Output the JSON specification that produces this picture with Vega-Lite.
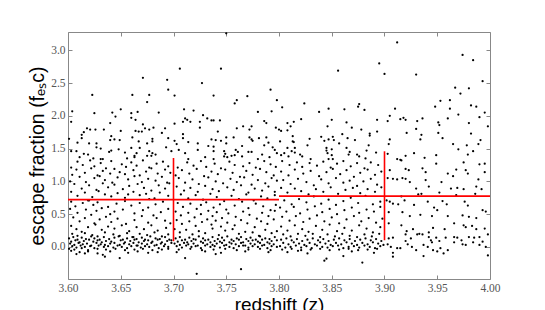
{
"$schema":"https://vega.github.io/schema/vega-lite/v6.json",
"width":422,"height":247,
"autosize":"none",
"padding":{"left":68,"top":32,"right":55,"bottom":31},
"background":"white",
"config":{"view":{"stroke":"#888","strokeWidth":1}},
"datasets":{
"bins":[{"lo":3.6,"hi":3.8,"mid":3.7,"mean":0.722,"elo":0.087,"ehi":1.357},{"lo":3.8,"hi":4.0,"mid":3.9,"mean":0.775,"elo":0.102,"ehi":1.459}],
"pts":[
{"z":3.671,"f":2.58},{"z":3.694,"f":2.55},{"z":3.695,"f":2.40},{"z":3.623,"f":2.32},{"z":3.661,"f":2.32},{"z":3.677,"f":2.32},{"z":3.675,"f":2.21},{"z":3.604,"f":2.07},{"z":3.625,"f":2.04},{"z":3.642,"f":2.05},{"z":3.650,"f":2.10},{"z":3.660,"f":2.04},{"z":3.666,"f":2.06},{"z":3.686,"f":2.05},{"z":3.603,"f":1.91},{"z":3.645,"f":1.99},{"z":3.660,"f":1.97},{"z":3.664,"f":1.94},{"z":3.640,"f":1.89},{"z":3.671,"f":1.87},{"z":3.673,"f":1.81},{"z":3.677,"f":1.79},{"z":3.681,"f":1.82},{"z":3.618,"f":1.81},{"z":3.621,"f":1.79},{"z":3.626,"f":1.79},{"z":3.634,"f":1.79},{"z":3.615,"f":1.75},{"z":3.613,"f":1.71},{"z":3.650,"f":1.77},{"z":3.664,"f":1.77},{"z":3.667,"f":1.76},{"z":3.670,"f":1.76},{"z":3.689,"f":1.74},{"z":3.692,"f":1.81},{"z":3.695,"f":1.66},{"z":3.613,"f":1.66},{"z":3.641,"f":1.69},{"z":3.644,"f":1.64},{"z":3.640,"f":1.63},{"z":3.649,"f":1.63},{"z":3.661,"f":1.67},{"z":3.667,"f":1.61},{"z":3.680,"f":1.65},{"z":3.680,"f":1.61},{"z":3.609,"f":1.59},{"z":3.620,"f":1.58},{"z":3.627,"f":1.58},{"z":3.675,"f":1.58},{"z":3.601,"f":1.65},{"z":3.627,"f":1.52},{"z":3.631,"f":1.50},{"z":3.648,"f":1.49},{"z":3.660,"f":1.51},{"z":3.668,"f":1.51},{"z":3.693,"f":1.52},{"z":3.603,"f":1.46},{"z":3.608,"f":1.46},{"z":3.615,"f":1.42},{"z":3.619,"f":1.41},{"z":3.639,"f":1.45},{"z":3.641,"f":1.47},{"z":3.654,"f":1.44},{"z":3.663,"f":1.39},{"z":3.665,"f":1.43},{"z":3.677,"f":1.46},{"z":3.680,"f":1.43},{"z":3.683,"f":1.41},{"z":3.698,"f":1.46},{"z":3.611,"f":1.37},{"z":3.624,"f":1.35},{"z":3.631,"f":1.34},{"z":3.633,"f":1.34},{"z":3.656,"f":1.35},{"z":3.663,"f":1.37},{"z":3.675,"f":1.39},{"z":3.679,"f":1.39},
{"z":3.750,"f":3.26},{"z":3.706,"f":2.72},{"z":3.745,"f":2.72},{"z":3.727,"f":2.50},{"z":3.701,"f":2.31},{"z":3.738,"f":2.31},{"z":3.770,"f":2.30},{"z":3.792,"f":2.40},{"z":3.760,"f":2.24},{"z":3.758,"f":2.19},{"z":3.798,"f":2.24},{"z":3.710,"f":2.10},{"z":3.719,"f":2.08},{"z":3.780,"f":2.06},{"z":3.793,"f":2.07},{"z":3.728,"f":2.01},{"z":3.701,"f":1.88},{"z":3.709,"f":1.91},{"z":3.711,"f":1.96},{"z":3.713,"f":1.94},{"z":3.716,"f":1.91},{"z":3.725,"f":1.91},{"z":3.732,"f":1.96},{"z":3.736,"f":1.93},{"z":3.738,"f":1.93},{"z":3.744,"f":1.93},{"z":3.725,"f":1.82},{"z":3.760,"f":1.81},{"z":3.766,"f":1.84},{"z":3.772,"f":1.79},{"z":3.774,"f":1.84},{"z":3.786,"f":1.92},{"z":3.788,"f":1.89},{"z":3.797,"f":1.82},{"z":3.800,"f":1.79},{"z":3.742,"f":1.76},{"z":3.709,"f":1.72},{"z":3.709,"f":1.66},{"z":3.750,"f":1.67},{"z":3.757,"f":1.67},{"z":3.772,"f":1.67},{"z":3.781,"f":1.66},{"z":3.788,"f":1.67},{"z":3.701,"f":1.62},{"z":3.714,"f":1.60},{"z":3.723,"f":1.58},{"z":3.736,"f":1.64},{"z":3.740,"f":1.63},{"z":3.745,"f":1.62},{"z":3.750,"f":1.58},{"z":3.774,"f":1.64},{"z":3.775,"f":1.62},{"z":3.790,"f":1.59},{"z":3.703,"f":1.57},{"z":3.723,"f":1.48},{"z":3.733,"f":1.54},{"z":3.738,"f":1.53},{"z":3.765,"f":1.54},{"z":3.771,"f":1.45},{"z":3.774,"f":1.45},{"z":3.786,"f":1.55},{"z":3.794,"f":1.52},{"z":3.796,"f":1.48},{"z":3.705,"f":1.48},{"z":3.711,"f":1.43},{"z":3.738,"f":1.46},{"z":3.748,"f":1.46},{"z":3.749,"f":1.42},{"z":3.759,"f":1.48},{"z":3.761,"f":1.45},{"z":3.758,"f":1.40},{"z":3.765,"f":1.38},{"z":3.784,"f":1.41},{"z":3.798,"f":1.43},{"z":3.714,"f":1.34},{"z":3.730,"f":1.37},{"z":3.738,"f":1.34},{"z":3.748,"f":1.38},{"z":3.751,"f":1.37},{"z":3.755,"f":1.39},{"z":3.780,"f":1.34},{"z":3.791,"f":1.37},
{"z":3.895,"f":2.80},{"z":3.900,"f":2.64},{"z":3.856,"f":2.69},{"z":3.803,"f":2.13},{"z":3.824,"f":2.19},{"z":3.838,"f":2.06},{"z":3.847,"f":2.11},{"z":3.862,"f":2.10},{"z":3.875,"f":2.14},{"z":3.876,"f":2.18},{"z":3.881,"f":2.09},{"z":3.808,"f":1.89},{"z":3.814,"f":1.91},{"z":3.821,"f":1.95},{"z":3.811,"f":1.84},{"z":3.808,"f":1.78},{"z":3.802,"f":1.77},{"z":3.850,"f":1.94},{"z":3.864,"f":1.90},{"z":3.846,"f":1.84},{"z":3.869,"f":1.82},{"z":3.878,"f":1.79},{"z":3.893,"f":1.94},{"z":3.893,"f":1.76},{"z":3.886,"f":1.73},{"z":3.886,"f":1.70},{"z":3.860,"f":1.72},{"z":3.813,"f":1.69},{"z":3.840,"f":1.68},{"z":3.851,"f":1.68},{"z":3.852,"f":1.63},{"z":3.847,"f":1.64},{"z":3.843,"f":1.62},{"z":3.829,"f":1.65},{"z":3.865,"f":1.66},{"z":3.872,"f":1.63},{"z":3.801,"f":1.61},{"z":3.813,"f":1.61},{"z":3.814,"f":1.60},{"z":3.827,"f":1.55},{"z":3.857,"f":1.58},{"z":3.885,"f":1.55},{"z":3.808,"f":1.51},{"z":3.815,"f":1.51},{"z":3.845,"f":1.51},{"z":3.864,"f":1.51},{"z":3.850,"f":1.49},{"z":3.805,"f":1.43},{"z":3.812,"f":1.46},{"z":3.815,"f":1.44},{"z":3.820,"f":1.41},{"z":3.845,"f":1.47},{"z":3.846,"f":1.43},{"z":3.867,"f":1.45},{"z":3.866,"f":1.41},{"z":3.883,"f":1.47},{"z":3.892,"f":1.44},{"z":3.802,"f":1.40},{"z":3.809,"f":1.38},{"z":3.822,"f":1.38},{"z":3.847,"f":1.34},{"z":3.850,"f":1.40},{"z":3.851,"f":1.34},{"z":3.874,"f":1.41},{"z":3.876,"f":1.38},{"z":3.830,"f":1.34},{"z":3.882,"f":1.35},
{"z":3.912,"f":3.12},{"z":3.974,"f":2.93},{"z":3.984,"f":2.85},{"z":3.930,"f":2.63},{"z":3.993,"f":2.53},{"z":3.967,"f":2.43},{"z":3.972,"f":2.34},{"z":3.980,"f":2.42},{"z":3.953,"f":2.23},{"z":3.962,"f":2.24},{"z":3.948,"f":2.14},{"z":3.962,"f":2.11},{"z":3.982,"f":2.16},{"z":3.987,"f":2.14},{"z":3.910,"f":2.11},{"z":3.995,"f":2.05},{"z":3.905,"f":2.00},{"z":3.970,"f":2.02},{"z":3.990,"f":1.98},{"z":3.915,"f":1.95},{"z":3.918,"f":1.97},{"z":3.920,"f":1.94},{"z":3.936,"f":1.96},{"z":3.960,"f":1.96},{"z":3.903,"f":1.92},{"z":3.931,"f":1.92},{"z":3.951,"f":1.90},{"z":3.952,"f":1.86},{"z":3.980,"f":1.89},{"z":3.998,"f":1.84},{"z":3.930,"f":1.80},{"z":3.921,"f":1.74},{"z":3.951,"f":1.74},{"z":3.982,"f":1.73},{"z":3.935,"f":1.71},{"z":3.955,"f":1.66},{"z":3.905,"f":1.64},{"z":3.934,"f":1.64},{"z":3.991,"f":1.63},{"z":3.904,"f":1.57},{"z":3.965,"f":1.57},{"z":3.978,"f":1.55},{"z":3.989,"f":1.57},{"z":3.970,"f":1.49},{"z":3.984,"f":1.46},{"z":3.903,"f":1.42},{"z":3.928,"f":1.43},{"z":3.949,"f":1.40},{"z":3.979,"f":1.41},{"z":3.912,"f":1.34},{"z":3.915,"f":1.33},{"z":3.920,"f":1.39},{"z":3.938,"f":1.36},
{"z":3.603,"f":1.21},{"z":3.609,"f":1.30},{"z":3.614,"f":1.25},{"z":3.621,"f":1.32},{"z":3.625,"f":1.23},{"z":3.631,"f":1.28},{"z":3.636,"f":1.20},{"z":3.641,"f":1.31},{"z":3.651,"f":1.26},{"z":3.655,"f":1.22},{"z":3.660,"f":1.29},{"z":3.665,"f":1.24},{"z":3.671,"f":1.32},{"z":3.677,"f":1.21},{"z":3.684,"f":1.27},{"z":3.690,"f":1.30},{"z":3.695,"f":1.23},
{"z":3.604,"f":1.10},{"z":3.608,"f":1.18},{"z":3.616,"f":1.13},{"z":3.622,"f":1.20},{"z":3.628,"f":1.09},{"z":3.633,"f":1.16},{"z":3.640,"f":1.12},{"z":3.644,"f":1.19},{"z":3.649,"f":1.14},{"z":3.654,"f":1.11},{"z":3.662,"f":1.17},{"z":3.668,"f":1.09},{"z":3.674,"f":1.15},{"z":3.679,"f":1.20},{"z":3.685,"f":1.12},{"z":3.692,"f":1.18},{"z":3.697,"f":1.13},
{"z":3.602,"f":1.00},{"z":3.611,"f":1.07},{"z":3.617,"f":0.99},{"z":3.625,"f":1.05},{"z":3.630,"f":1.08},{"z":3.635,"f":1.02},{"z":3.642,"f":0.98},{"z":3.647,"f":1.06},{"z":3.657,"f":1.03},{"z":3.663,"f":1.08},{"z":3.670,"f":0.99},{"z":3.676,"f":1.04},{"z":3.683,"f":1.01},{"z":3.689,"f":1.07},{"z":3.694,"f":0.98},
{"z":3.606,"f":0.96},{"z":3.613,"f":0.89},{"z":3.620,"f":0.94},{"z":3.627,"f":0.87},{"z":3.633,"f":0.97},{"z":3.638,"f":0.91},{"z":3.644,"f":0.95},{"z":3.652,"f":0.88},{"z":3.658,"f":0.93},{"z":3.666,"f":0.96},{"z":3.672,"f":0.90},{"z":3.679,"f":0.86},{"z":3.686,"f":0.94},{"z":3.692,"f":0.89},{"z":3.696,"f":0.97},
{"z":3.603,"f":0.84},{"z":3.609,"f":0.78},{"z":3.616,"f":0.83},{"z":3.623,"f":0.76},{"z":3.629,"f":0.85},{"z":3.635,"f":0.80},{"z":3.641,"f":0.77},{"z":3.647,"f":0.82},{"z":3.654,"f":0.75},{"z":3.662,"f":0.84},{"z":3.668,"f":0.79},{"z":3.674,"f":0.81},{"z":3.682,"f":0.74},{"z":3.687,"f":0.83},{"z":3.695,"f":0.78},{"z":3.619,"f":0.71},{"z":3.657,"f":0.80},{"z":3.677,"f":0.73},
{"z":3.603,"f":0.69},{"z":3.607,"f":0.62},{"z":3.614,"f":0.67},{"z":3.620,"f":0.71},{"z":3.624,"f":0.64},{"z":3.628,"f":0.68},{"z":3.638,"f":0.61},{"z":3.646,"f":0.66},{"z":3.654,"f":0.70},{"z":3.660,"f":0.63},{"z":3.668,"f":0.67},{"z":3.676,"f":0.60},{"z":3.683,"f":0.65},{"z":3.690,"f":0.69},
{"z":3.602,"f":0.58},{"z":3.609,"f":0.52},{"z":3.617,"f":0.57},{"z":3.622,"f":0.49},{"z":3.627,"f":0.55},{"z":3.632,"f":0.59},{"z":3.640,"f":0.50},{"z":3.644,"f":0.54},{"z":3.652,"f":0.57},{"z":3.663,"f":0.51},{"z":3.671,"f":0.56},{"z":3.681,"f":0.48},{"z":3.688,"f":0.53},{"z":3.695,"f":0.58},
{"z":3.605,"f":0.45},{"z":3.611,"f":0.39},{"z":3.616,"f":0.44},{"z":3.625,"f":0.36},{"z":3.630,"f":0.42},{"z":3.636,"f":0.46},{"z":3.641,"f":0.38},{"z":3.647,"f":0.43},{"z":3.655,"f":0.35},{"z":3.663,"f":0.41},{"z":3.670,"f":0.47},{"z":3.676,"f":0.37},{"z":3.684,"f":0.44},{"z":3.692,"f":0.40},{"z":3.697,"f":0.36},
{"z":3.603,"f":0.32},{"z":3.608,"f":0.27},{"z":3.613,"f":0.23},{"z":3.619,"f":0.30},{"z":3.626,"f":0.34},{"z":3.632,"f":0.26},{"z":3.638,"f":0.31},{"z":3.644,"f":0.28},{"z":3.651,"f":0.33},{"z":3.658,"f":0.24},{"z":3.665,"f":0.30},{"z":3.672,"f":0.27},{"z":3.679,"f":0.33},{"z":3.685,"f":0.25},{"z":3.693,"f":0.29},
{"z":3.604,"f":0.20},{"z":3.609,"f":0.17},{"z":3.616,"f":0.21},{"z":3.623,"f":0.18},{"z":3.628,"f":0.16},{"z":3.635,"f":0.22},{"z":3.643,"f":0.19},{"z":3.649,"f":0.17},{"z":3.656,"f":0.21},{"z":3.662,"f":0.15},{"z":3.668,"f":0.20},{"z":3.675,"f":0.18},{"z":3.682,"f":0.22},{"z":3.689,"f":0.16},{"z":3.695,"f":0.19},
{"z":3.601,"f":0.13},{"z":3.605,"f":0.15},{"z":3.609,"f":0.11},{"z":3.613,"f":0.14},{"z":3.617,"f":0.12},{"z":3.622,"f":0.16},{"z":3.625,"f":0.13},{"z":3.630,"f":0.11},{"z":3.634,"f":0.15},{"z":3.639,"f":0.12},{"z":3.644,"f":0.14},{"z":3.648,"f":0.16},{"z":3.652,"f":0.11},{"z":3.656,"f":0.13},{"z":3.661,"f":0.15},{"z":3.665,"f":0.12},{"z":3.670,"f":0.14},{"z":3.673,"f":0.11},{"z":3.678,"f":0.16},{"z":3.683,"f":0.13},{"z":3.687,"f":0.12},{"z":3.692,"f":0.15},{"z":3.696,"f":0.11},
{"z":3.603,"f":0.08},{"z":3.607,"f":0.10},{"z":3.611,"f":0.07},{"z":3.615,"f":0.09},{"z":3.620,"f":0.11},{"z":3.624,"f":0.08},{"z":3.628,"f":0.10},{"z":3.632,"f":0.07},{"z":3.636,"f":0.09},{"z":3.641,"f":0.08},{"z":3.650,"f":0.10},{"z":3.654,"f":0.07},{"z":3.659,"f":0.09},{"z":3.663,"f":0.11},{"z":3.667,"f":0.07},{"z":3.672,"f":0.09},{"z":3.676,"f":0.10},{"z":3.680,"f":0.08},{"z":3.685,"f":0.11},{"z":3.689,"f":0.07},{"z":3.694,"f":0.09},{"z":3.698,"f":0.10},
{"z":3.602,"f":0.05},{"z":3.606,"f":0.03},{"z":3.610,"f":0.06},{"z":3.614,"f":0.04},{"z":3.618,"f":0.05},{"z":3.622,"f":0.02},{"z":3.627,"f":0.06},{"z":3.631,"f":0.04},{"z":3.635,"f":0.03},{"z":3.640,"f":0.05},{"z":3.644,"f":0.06},{"z":3.649,"f":0.03},{"z":3.653,"f":0.05},{"z":3.658,"f":0.04},{"z":3.662,"f":0.06},{"z":3.666,"f":0.02},{"z":3.670,"f":0.05},{"z":3.675,"f":0.04},{"z":3.679,"f":0.06},{"z":3.684,"f":0.03},{"z":3.688,"f":0.05},{"z":3.692,"f":0.04},{"z":3.698,"f":0.06},
{"z":3.604,"f":0.01},{"z":3.608,"f":-0.01},{"z":3.612,"f":0.02},{"z":3.616,"f":0.00},{"z":3.621,"f":0.01},{"z":3.625,"f":-0.02},{"z":3.629,"f":0.02},{"z":3.634,"f":0.00},{"z":3.638,"f":0.01},{"z":3.643,"f":-0.01},{"z":3.647,"f":0.02},{"z":3.651,"f":0.00},{"z":3.656,"f":-0.02},{"z":3.660,"f":0.01},{"z":3.665,"f":0.02},{"z":3.669,"f":-0.01},{"z":3.673,"f":0.01},{"z":3.677,"f":0.00},{"z":3.682,"f":0.02},{"z":3.686,"f":-0.02},{"z":3.691,"f":0.01},{"z":3.695,"f":0.00},
{"z":3.601,"f":-0.03},{"z":3.606,"f":-0.04},{"z":3.613,"f":-0.02},{"z":3.619,"f":-0.05},{"z":3.628,"f":-0.03},{"z":3.636,"f":-0.04},{"z":3.645,"f":-0.03},{"z":3.654,"f":-0.05},{"z":3.663,"f":-0.04},{"z":3.671,"f":-0.03},{"z":3.680,"f":-0.05},{"z":3.689,"f":-0.04},{"z":3.695,"f":-0.03},
{"z":3.603,"f":-0.06},{"z":3.611,"f":-0.08},{"z":3.619,"f":-0.07},{"z":3.628,"f":-0.10},{"z":3.633,"f":-0.12},{"z":3.640,"f":-0.07},{"z":3.649,"f":-0.17},{"z":3.657,"f":-0.09},{"z":3.666,"f":-0.07},{"z":3.676,"f":-0.09},{"z":3.685,"f":-0.08},{"z":3.608,"f":-0.11},{"z":3.635,"f":-0.15},{"z":3.616,"f":-0.10},
{"z":3.704,"f":1.21},{"z":3.713,"f":1.29},{"z":3.719,"f":1.24},{"z":3.726,"f":1.31},{"z":3.731,"f":1.22},{"z":3.739,"f":1.27},{"z":3.745,"f":1.20},{"z":3.753,"f":1.30},{"z":3.758,"f":1.25},{"z":3.766,"f":1.23},{"z":3.772,"f":1.28},{"z":3.778,"f":1.21},{"z":3.786,"f":1.31},{"z":3.792,"f":1.26},{"z":3.797,"f":1.22},
{"z":3.702,"f":1.09},{"z":3.708,"f":1.17},{"z":3.715,"f":1.12},{"z":3.722,"f":1.19},{"z":3.729,"f":1.08},{"z":3.736,"f":1.15},{"z":3.742,"f":1.11},{"z":3.749,"f":1.18},{"z":3.756,"f":1.13},{"z":3.763,"f":1.07},{"z":3.769,"f":1.16},{"z":3.775,"f":1.10},{"z":3.782,"f":1.19},{"z":3.788,"f":1.14},{"z":3.795,"f":1.09},
{"z":3.705,"f":1.05},{"z":3.711,"f":0.98},{"z":3.718,"f":1.03},{"z":3.724,"f":0.96},{"z":3.733,"f":1.06},{"z":3.740,"f":1.00},{"z":3.747,"f":0.97},{"z":3.754,"f":1.04},{"z":3.760,"f":0.99},{"z":3.767,"f":1.06},{"z":3.774,"f":0.95},{"z":3.780,"f":1.02},{"z":3.787,"f":0.97},{"z":3.793,"f":1.05},{"z":3.798,"f":1.01},
{"z":3.703,"f":0.92},{"z":3.710,"f":0.86},{"z":3.716,"f":0.90},{"z":3.723,"f":0.84},{"z":3.730,"f":0.93},{"z":3.737,"f":0.88},{"z":3.743,"f":0.85},{"z":3.751,"f":0.91},{"z":3.757,"f":0.87},{"z":3.764,"f":0.94},{"z":3.771,"f":0.83},{"z":3.777,"f":0.89},{"z":3.784,"f":0.86},{"z":3.790,"f":0.92},{"z":3.796,"f":0.84},
{"z":3.707,"f":0.80},{"z":3.714,"f":0.74},{"z":3.721,"f":0.79},{"z":3.728,"f":0.72},{"z":3.735,"f":0.81},{"z":3.741,"f":0.76},{"z":3.748,"f":0.70},{"z":3.755,"f":0.78},{"z":3.762,"f":0.73},{"z":3.769,"f":0.80},{"z":3.776,"f":0.71},{"z":3.783,"f":0.77},{"z":3.789,"f":0.74},{"z":3.796,"f":0.79},
{"z":3.704,"f":0.67},{"z":3.709,"f":0.61},{"z":3.716,"f":0.66},{"z":3.722,"f":0.58},{"z":3.726,"f":0.64},{"z":3.731,"f":0.68},{"z":3.738,"f":0.60},{"z":3.744,"f":0.65},{"z":3.750,"f":0.57},{"z":3.758,"f":0.63},{"z":3.765,"f":0.69},{"z":3.771,"f":0.59},{"z":3.778,"f":0.66},{"z":3.785,"f":0.62},{"z":3.792,"f":0.56},{"z":3.797,"f":0.64},
{"z":3.702,"f":0.54},{"z":3.707,"f":0.48},{"z":3.714,"f":0.52},{"z":3.720,"f":0.45},{"z":3.726,"f":0.50},{"z":3.733,"f":0.55},{"z":3.737,"f":0.47},{"z":3.741,"f":0.53},{"z":3.746,"f":0.44},{"z":3.752,"f":0.51},{"z":3.759,"f":0.46},{"z":3.766,"f":0.54},{"z":3.772,"f":0.49},{"z":3.779,"f":0.43},{"z":3.784,"f":0.52},{"z":3.790,"f":0.47},{"z":3.796,"f":0.55},
{"z":3.703,"f":0.41},{"z":3.708,"f":0.35},{"z":3.715,"f":0.39},{"z":3.721,"f":0.32},{"z":3.727,"f":0.38},{"z":3.732,"f":0.42},{"z":3.736,"f":0.34},{"z":3.740,"f":0.40},{"z":3.745,"f":0.31},{"z":3.751,"f":0.37},{"z":3.758,"f":0.33},{"z":3.764,"f":0.41},{"z":3.770,"f":0.36},{"z":3.777,"f":0.30},{"z":3.783,"f":0.39},{"z":3.789,"f":0.35},{"z":3.795,"f":0.42},
{"z":3.701,"f":0.27},{"z":3.706,"f":0.22},{"z":3.712,"f":0.26},{"z":3.718,"f":0.19},{"z":3.724,"f":0.24},{"z":3.730,"f":0.21},{"z":3.737,"f":0.28},{"z":3.743,"f":0.18},{"z":3.749,"f":0.25},{"z":3.756,"f":0.27},{"z":3.762,"f":0.20},{"z":3.768,"f":0.23},{"z":3.775,"f":0.22},{"z":3.781,"f":0.17},{"z":3.787,"f":0.26},{"z":3.793,"f":0.21},{"z":3.798,"f":0.24},
{"z":3.702,"f":0.13},{"z":3.706,"f":0.15},{"z":3.711,"f":0.11},{"z":3.715,"f":0.14},{"z":3.719,"f":0.12},{"z":3.724,"f":0.16},{"z":3.728,"f":0.13},{"z":3.733,"f":0.11},{"z":3.737,"f":0.15},{"z":3.742,"f":0.12},{"z":3.746,"f":0.14},{"z":3.751,"f":0.16},{"z":3.755,"f":0.11},{"z":3.760,"f":0.13},{"z":3.764,"f":0.15},{"z":3.769,"f":0.12},{"z":3.773,"f":0.14},{"z":3.778,"f":0.11},{"z":3.782,"f":0.16},{"z":3.787,"f":0.13},{"z":3.791,"f":0.12},{"z":3.796,"f":0.15},
{"z":3.704,"f":0.08},{"z":3.708,"f":0.10},{"z":3.713,"f":0.07},{"z":3.717,"f":0.09},{"z":3.721,"f":0.11},{"z":3.726,"f":0.08},{"z":3.730,"f":0.10},{"z":3.735,"f":0.07},{"z":3.739,"f":0.09},{"z":3.744,"f":0.08},{"z":3.748,"f":0.10},{"z":3.753,"f":0.07},{"z":3.757,"f":0.09},{"z":3.762,"f":0.11},{"z":3.766,"f":0.07},{"z":3.771,"f":0.09},{"z":3.775,"f":0.10},{"z":3.780,"f":0.08},{"z":3.784,"f":0.11},{"z":3.789,"f":0.07},{"z":3.793,"f":0.09},{"z":3.798,"f":0.10},
{"z":3.701,"f":0.05},{"z":3.706,"f":0.03},{"z":3.710,"f":0.06},{"z":3.714,"f":0.04},{"z":3.719,"f":0.05},{"z":3.723,"f":0.02},{"z":3.728,"f":0.06},{"z":3.732,"f":0.04},{"z":3.737,"f":0.03},{"z":3.741,"f":0.05},{"z":3.746,"f":0.06},{"z":3.750,"f":0.03},{"z":3.755,"f":0.05},{"z":3.759,"f":0.04},{"z":3.764,"f":0.06},{"z":3.768,"f":0.02},{"z":3.773,"f":0.05},{"z":3.777,"f":0.04},{"z":3.782,"f":0.06},{"z":3.786,"f":0.03},{"z":3.791,"f":0.05},{"z":3.795,"f":0.04},
{"z":3.703,"f":0.01},{"z":3.708,"f":-0.01},{"z":3.712,"f":0.02},{"z":3.717,"f":0.00},{"z":3.721,"f":0.01},{"z":3.726,"f":-0.02},{"z":3.730,"f":0.02},{"z":3.735,"f":0.00},{"z":3.739,"f":0.01},{"z":3.744,"f":-0.01},{"z":3.748,"f":0.02},{"z":3.753,"f":0.00},{"z":3.757,"f":-0.02},{"z":3.762,"f":0.01},{"z":3.766,"f":0.02},{"z":3.771,"f":-0.01},{"z":3.775,"f":0.01},{"z":3.780,"f":0.00},{"z":3.784,"f":0.02},{"z":3.789,"f":-0.02},{"z":3.793,"f":0.01},{"z":3.798,"f":0.00},
{"z":3.705,"f":-0.04},{"z":3.716,"f":-0.03},{"z":3.727,"f":-0.05},{"z":3.738,"f":-0.04},{"z":3.749,"f":-0.03},{"z":3.760,"f":-0.05},{"z":3.771,"f":-0.04},{"z":3.782,"f":-0.03},{"z":3.792,"f":-0.05},
{"z":3.711,"f":-0.17},{"z":3.722,"f":-0.41},{"z":3.764,"f":-0.34},{"z":3.703,"f":-0.08},{"z":3.730,"f":-0.07},{"z":3.745,"f":-0.09},{"z":3.768,"f":-0.07},{"z":3.790,"f":-0.08},{"z":3.740,"f":-0.11},
{"z":3.803,"f":1.31},{"z":3.810,"f":1.25},{"z":3.817,"f":1.29},{"z":3.822,"f":1.22},{"z":3.829,"f":1.28},{"z":3.836,"f":1.24},{"z":3.842,"f":1.30},{"z":3.849,"f":1.21},{"z":3.855,"f":1.27},{"z":3.861,"f":1.31},{"z":3.868,"f":1.23},{"z":3.874,"f":1.28},{"z":3.881,"f":1.20},{"z":3.887,"f":1.29},{"z":3.894,"f":1.25},
{"z":3.802,"f":1.15},{"z":3.809,"f":1.09},{"z":3.815,"f":1.18},{"z":3.823,"f":1.12},{"z":3.830,"f":1.16},{"z":3.838,"f":1.08},{"z":3.845,"f":1.14},{"z":3.851,"f":1.19},{"z":3.858,"f":1.11},{"z":3.864,"f":1.17},{"z":3.871,"f":1.07},{"z":3.877,"f":1.13},{"z":3.884,"f":1.18},{"z":3.891,"f":1.10},{"z":3.897,"f":1.15},
{"z":3.804,"f":1.02},{"z":3.811,"f":0.96},{"z":3.818,"f":1.04},{"z":3.826,"f":0.99},{"z":3.833,"f":0.94},{"z":3.840,"f":1.03},{"z":3.847,"f":0.97},{"z":3.854,"f":1.05},{"z":3.861,"f":0.98},{"z":3.867,"f":1.01},{"z":3.874,"f":0.93},{"z":3.880,"f":1.00},{"z":3.887,"f":1.04},{"z":3.893,"f":0.95},
{"z":3.802,"f":0.90},{"z":3.808,"f":0.83},{"z":3.815,"f":0.89},{"z":3.821,"f":0.85},{"z":3.828,"f":0.80},{"z":3.835,"f":0.88},{"z":3.842,"f":0.84},{"z":3.849,"f":0.91},{"z":3.856,"f":0.81},{"z":3.863,"f":0.87},{"z":3.870,"f":0.90},{"z":3.877,"f":0.82},{"z":3.884,"f":0.88},{"z":3.891,"f":0.84},{"z":3.897,"f":0.91},
{"z":3.805,"f":0.71},{"z":3.812,"f":0.65},{"z":3.819,"f":0.73},{"z":3.826,"f":0.68},{"z":3.833,"f":0.77},{"z":3.840,"f":0.66},{"z":3.847,"f":0.72},{"z":3.854,"f":0.64},{"z":3.861,"f":0.70},{"z":3.868,"f":0.75},{"z":3.875,"f":0.67},{"z":3.882,"f":0.78},{"z":3.889,"f":0.65},{"z":3.896,"f":0.69},
{"z":3.801,"f":0.60},{"z":3.807,"f":0.54},{"z":3.814,"f":0.61},{"z":3.820,"f":0.51},{"z":3.827,"f":0.57},{"z":3.834,"f":0.62},{"z":3.841,"f":0.53},{"z":3.848,"f":0.58},{"z":3.855,"f":0.50},{"z":3.862,"f":0.56},{"z":3.869,"f":0.60},{"z":3.876,"f":0.52},{"z":3.883,"f":0.57},{"z":3.890,"f":0.54},{"z":3.896,"f":0.61},
{"z":3.803,"f":0.46},{"z":3.810,"f":0.40},{"z":3.816,"f":0.47},{"z":3.823,"f":0.38},{"z":3.829,"f":0.43},{"z":3.836,"f":0.48},{"z":3.843,"f":0.39},{"z":3.850,"f":0.45},{"z":3.857,"f":0.36},{"z":3.864,"f":0.42},{"z":3.871,"f":0.47},{"z":3.878,"f":0.39},{"z":3.885,"f":0.44},{"z":3.892,"f":0.37},{"z":3.898,"f":0.43},
{"z":3.802,"f":0.31},{"z":3.808,"f":0.25},{"z":3.815,"f":0.33},{"z":3.822,"f":0.27},{"z":3.828,"f":0.23},{"z":3.835,"f":0.32},{"z":3.841,"f":0.26},{"z":3.848,"f":0.34},{"z":3.855,"f":0.24},{"z":3.862,"f":0.29},{"z":3.869,"f":0.25},{"z":3.876,"f":0.33},{"z":3.883,"f":0.28},{"z":3.889,"f":0.22},{"z":3.896,"f":0.30},
{"z":3.804,"f":0.19},{"z":3.811,"f":0.16},{"z":3.818,"f":0.20},{"z":3.825,"f":0.17},{"z":3.832,"f":0.20},{"z":3.839,"f":0.15},{"z":3.846,"f":0.19},{"z":3.853,"f":0.16},{"z":3.860,"f":0.20},{"z":3.867,"f":0.17},{"z":3.874,"f":0.15},{"z":3.881,"f":0.19},{"z":3.888,"f":0.16},{"z":3.895,"f":0.20},
{"z":3.802,"f":0.11},{"z":3.807,"f":0.13},{"z":3.812,"f":0.10},{"z":3.817,"f":0.12},{"z":3.822,"f":0.09},{"z":3.827,"f":0.11},{"z":3.832,"f":0.13},{"z":3.837,"f":0.10},{"z":3.842,"f":0.12},{"z":3.847,"f":0.09},{"z":3.852,"f":0.11},{"z":3.857,"f":0.13},{"z":3.862,"f":0.10},{"z":3.867,"f":0.12},{"z":3.872,"f":0.09},{"z":3.877,"f":0.11},{"z":3.882,"f":0.13},{"z":3.887,"f":0.10},{"z":3.892,"f":0.12},{"z":3.897,"f":0.09},
{"z":3.804,"f":0.06},{"z":3.809,"f":0.04},{"z":3.814,"f":0.07},{"z":3.819,"f":0.05},{"z":3.824,"f":0.03},{"z":3.829,"f":0.06},{"z":3.834,"f":0.04},{"z":3.839,"f":0.07},{"z":3.844,"f":0.05},{"z":3.849,"f":0.03},{"z":3.854,"f":0.06},{"z":3.859,"f":0.04},{"z":3.864,"f":0.07},{"z":3.869,"f":0.05},{"z":3.874,"f":0.03},{"z":3.879,"f":0.06},{"z":3.884,"f":0.04},{"z":3.889,"f":0.07},{"z":3.894,"f":0.05},{"z":3.899,"f":0.03},
{"z":3.801,"f":0.01},{"z":3.806,"f":-0.01},{"z":3.811,"f":0.00},{"z":3.816,"f":0.02},{"z":3.821,"f":-0.01},{"z":3.826,"f":0.01},{"z":3.831,"f":-0.02},{"z":3.836,"f":0.02},{"z":3.841,"f":0.00},{"z":3.846,"f":-0.01},{"z":3.851,"f":0.01},{"z":3.856,"f":0.02},{"z":3.861,"f":-0.02},{"z":3.866,"f":0.00},{"z":3.871,"f":0.01},{"z":3.876,"f":-0.01},{"z":3.881,"f":0.02},{"z":3.886,"f":0.00},{"z":3.891,"f":-0.02},{"z":3.896,"f":0.01},
{"z":3.803,"f":-0.04},{"z":3.812,"f":-0.03},{"z":3.821,"f":-0.05},{"z":3.830,"f":-0.04},{"z":3.839,"f":-0.03},{"z":3.848,"f":-0.05},{"z":3.857,"f":-0.04},{"z":3.866,"f":-0.03},{"z":3.875,"f":-0.05},{"z":3.884,"f":-0.04},{"z":3.893,"f":-0.03},
{"z":3.808,"f":-0.08},{"z":3.827,"f":-0.10},{"z":3.843,"f":-0.21},{"z":3.845,"f":-0.18},{"z":3.861,"f":-0.14},{"z":3.879,"f":-0.24},{"z":3.869,"f":-0.07},{"z":3.890,"f":-0.09},{"z":3.818,"f":-0.06},
{"z":3.916,"f":1.32},{"z":3.949,"f":1.27},{"z":3.975,"f":1.29},{"z":3.990,"f":1.26},{"z":3.995,"f":1.27},{"z":3.905,"f":1.17},{"z":3.920,"f":1.19},{"z":3.923,"f":1.17},{"z":3.936,"f":1.20},{"z":3.939,"f":1.14},{"z":3.960,"f":1.12},{"z":3.968,"f":1.18},{"z":3.977,"f":1.17},{"z":3.979,"f":1.12},{"z":3.995,"f":1.14},{"z":3.903,"f":1.05},{"z":3.908,"f":1.04},{"z":3.912,"f":1.03},{"z":3.917,"f":1.05},{"z":3.920,"f":1.04},{"z":3.924,"f":0.99},{"z":3.939,"f":1.02},{"z":3.942,"f":0.92},{"z":3.954,"f":0.99},{"z":3.965,"f":1.08},{"z":3.963,"f":0.89},{"z":3.969,"f":0.90},{"z":3.975,"f":0.88},{"z":3.987,"f":0.92},{"z":3.989,"f":1.03},{"z":3.992,"f":0.88},{"z":3.930,"f":0.89},{"z":3.932,"f":0.80},{"z":3.935,"f":0.81},{"z":3.916,"f":0.77},{"z":3.952,"f":0.83},{"z":3.968,"f":0.79},{"z":3.986,"f":0.81},{"z":3.902,"f":0.71},{"z":3.905,"f":0.69},{"z":3.908,"f":0.66},{"z":3.913,"f":0.65},{"z":3.919,"f":0.71},{"z":3.928,"f":0.64},{"z":3.941,"f":0.69},{"z":3.947,"f":0.60},{"z":3.955,"f":0.70},{"z":3.959,"f":0.65},{"z":3.976,"f":0.69},{"z":3.979,"f":0.63},{"z":3.993,"f":0.56},{"z":3.996,"f":0.54},{"z":3.904,"f":0.53},{"z":3.917,"f":0.53},{"z":3.924,"f":0.47},{"z":3.934,"f":0.49},{"z":3.945,"f":0.47},{"z":3.950,"f":0.56},{"z":3.960,"f":0.47},{"z":3.974,"f":0.48},{"z":3.980,"f":0.46},{"z":3.987,"f":0.44},{"z":3.904,"f":0.36},{"z":3.916,"f":0.33},{"z":3.927,"f":0.27},{"z":3.921,"f":0.24},{"z":3.933,"f":0.20},{"z":3.936,"f":0.19},{"z":3.942,"f":0.22},{"z":3.946,"f":0.29},{"z":3.957,"f":0.27},{"z":3.966,"f":0.36},{"z":3.975,"f":0.33},{"z":3.977,"f":0.30},{"z":3.983,"f":0.32},{"z":3.987,"f":0.27},{"z":3.995,"f":0.28},{"z":3.998,"f":0.19},{"z":3.904,"f":0.13},{"z":3.908,"f":0.14},{"z":3.920,"f":0.19},{"z":3.925,"f":0.13},{"z":3.931,"f":0.19},{"z":3.942,"f":0.15},{"z":3.944,"f":0.10},{"z":3.949,"f":0.14},{"z":3.952,"f":0.09},{"z":3.958,"f":0.14},{"z":3.966,"f":0.15},{"z":3.969,"f":0.14},{"z":3.973,"f":0.10},{"z":3.980,"f":0.15},{"z":3.985,"f":0.14},{"z":3.990,"f":0.15},{"z":3.993,"f":0.08},{"z":3.903,"f":0.04},{"z":3.906,"f":0.00},{"z":3.912,"f":-0.02},{"z":3.915,"f":-0.02},{"z":3.920,"f":0.09},{"z":3.922,"f":0.04},{"z":3.926,"f":0.00},{"z":3.930,"f":-0.05},{"z":3.937,"f":0.03},{"z":3.941,"f":0.00},{"z":3.945,"f":0.07},{"z":3.946,"f":-0.05},{"z":3.950,"f":-0.07},{"z":3.953,"f":-0.02},{"z":3.956,"f":-0.10},{"z":3.960,"f":-0.05},{"z":3.966,"f":0.07},{"z":3.974,"f":0.04},{"z":3.977,"f":0.03},{"z":3.984,"f":0.07},{"z":3.990,"f":0.03},{"z":3.996,"f":0.00},{"z":3.908,"f":-0.09},{"z":3.908,"f":-0.15},{"z":3.937,"f":-0.14},{"z":3.998,"f":-0.13}
]},
"layer":[
{"data":{"name":"pts"},
 "mark":{"type":"circle","size":5,"color":"black","opacity":1},
 "encoding":{
  "x":{"field":"z","type":"quantitative","scale":{"domain":[3.6,4.0],"nice":false,"zero":false},
   "axis":{"orient":"bottom","title":"redshift (z)","values":[3.6,3.65,3.7,3.75,3.8,3.85,3.9,3.95,4.0],"format":".2f","grid":false,"domain":false,"tickSize":-4,"tickColor":"#888","labelPadding":7,"labelFont":"Liberation Serif","labelFontSize":11.5,"labelColor":"#555","labelFlush":false,"titleFont":"Liberation Sans","titleFontSize":19,"titleFontWeight":"normal","titleColor":"black","titlePadding":2}},
  "y":{"field":"f","type":"quantitative","scale":{"domain":[-0.49,3.28],"nice":false,"zero":false},
   "axis":{"orient":"left","title":"escape fraction (fₑₛc)","values":[0,0.5,1,1.5,2,2.5,3],"format":".1f","grid":false,"domain":false,"tickSize":-4,"tickColor":"#888","labelPadding":7,"labelFont":"Liberation Serif","labelFontSize":11.5,"labelColor":"#555","titleFont":"Liberation Sans","titleFontSize":19.5,"titleFontWeight":"normal","titleColor":"black","titlePadding":3}}
 }},
{"data":{"name":"bins"},
 "mark":{"type":"rule","color":"#ff0000","strokeWidth":1.6},
 "encoding":{"x":{"field":"lo","type":"quantitative","axis":null},"x2":{"field":"hi"},"y":{"field":"mean","type":"quantitative","axis":null}}},
{"data":{"name":"bins"},
 "mark":{"type":"rule","color":"#ff0000","strokeWidth":1.6},
 "encoding":{
  "x":{"field":"mid","type":"quantitative","axis":{"orient":"top","title":null,"labels":false,"domain":false,"grid":false,"tickSize":-4,"tickColor":"#888","values":[3.6,3.65,3.7,3.75,3.8,3.85,3.9,3.95,4.0]}},
  "y":{"field":"elo","type":"quantitative","axis":{"orient":"right","title":null,"labels":false,"domain":false,"grid":false,"tickSize":-4,"tickColor":"#888","values":[0,0.5,1,1.5,2,2.5,3]}},
  "y2":{"field":"ehi"}}}
]
}
